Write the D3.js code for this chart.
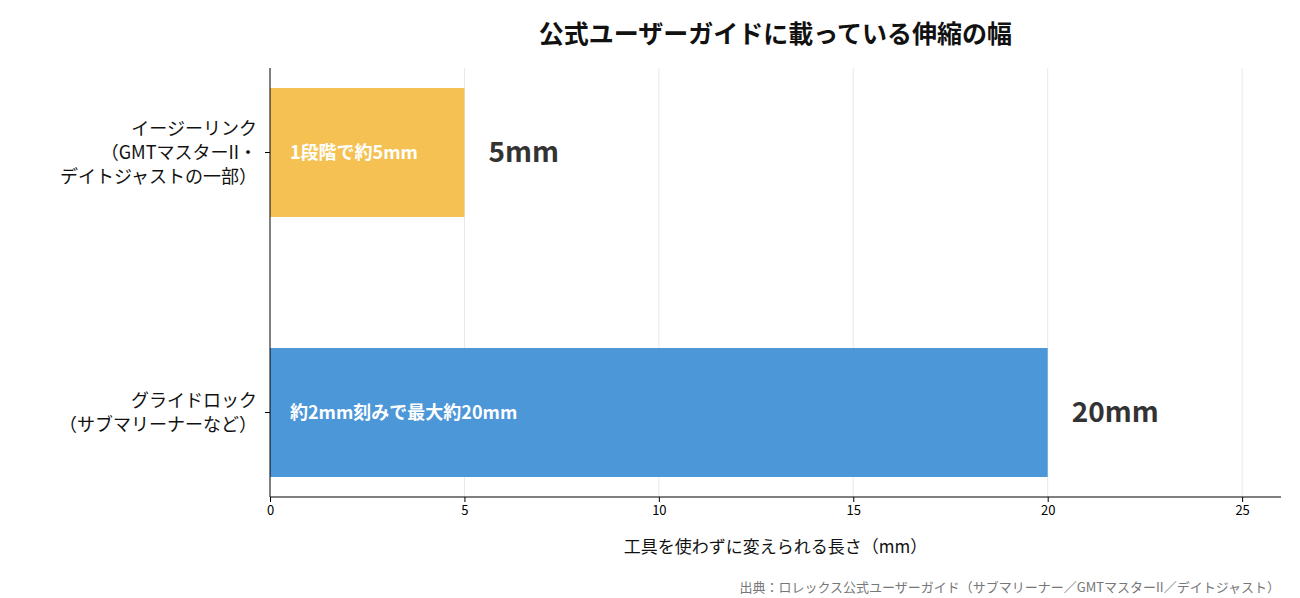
<!DOCTYPE html>
<html><head><meta charset="utf-8">
<script src="https://cdn.jsdelivr.net/npm/d3@7"></script>
<style>body{margin:0;background:#fff;font-family:"Noto Sans CJK JP","Noto Sans",sans-serif;}</style>
</head><body>
<svg id="c" width="1300" height="598"></svg>
<script>
var categories = [
  ["イージーリンク", "（GMTマスターII・", "デイトジャストの一部）"],
  ["グライドロック", "（サブマリーナーなど）"]
];
var values = [5, 20];
var barLabels = ["1段階で約5mm", "約2mm刻みで最大約20mm"];
var valueLabels = ["5mm", "20mm"];
var colors = ["#F4C152", "#4C97D8"];
var xTicks = [0, 5, 10, 15, 20, 25];

var svg = d3.select("#c");
var m = {l: 270, r: 1281, t: 68, b: 497};
var x = d3.scaleLinear().domain([0, 26]).range([m.l, m.r]);
var y = d3.scaleBand().domain([0, 1]).range([m.t, m.b]).paddingInner(0.504).paddingOuter(0.077);

svg.append("g").selectAll("line").data(xTicks.slice(1)).join("line")
  .attr("x1", d => x(d)).attr("x2", d => x(d)).attr("y1", m.t).attr("y2", m.b)
  .attr("stroke", "#e8e8e8").attr("stroke-width", 1);

svg.append("g").selectAll("rect").data(values).join("rect")
  .attr("x", x(0)).attr("y", (d, i) => y(i)).attr("width", d => x(d) - x(0))
  .attr("height", y.bandwidth()).attr("fill", (d, i) => colors[i]);

svg.append("g").selectAll("text").data(barLabels).join("text")
  .attr("x", x(0) + 20).attr("y", (d, i) => y(i) + y.bandwidth() / 2)
  .attr("dy", "0.35em").attr("fill", "#fff").attr("font-weight", "bold")
  .attr("font-size", 18).text(d => d);

svg.append("g").selectAll("text").data(values).join("text")
  .attr("x", d => x(d) + 24).attr("y", (d, i) => y(i) + y.bandwidth() / 2)
  .attr("dy", "0.35em").attr("fill", "#333").attr("font-weight", "bold")
  .attr("font-size", 28).text((d, i) => valueLabels[i]);

var xa = svg.append("g").attr("transform", "translate(0," + m.b + ")")
  .call(d3.axisBottom(x).tickValues(xTicks).tickSize(5).tickPadding(4));
xa.select(".domain").attr("d", "M" + m.l + ",0H" + m.r);
xa.selectAll("text").attr("font-size", 13).attr("font-family", "Noto Sans CJK JP");

var ya = svg.append("g").attr("transform", "translate(" + m.l + ",0)")
  .call(d3.axisLeft(y).tickSize(5).tickFormat(""));
ya.select(".domain").attr("d", "M0," + m.t + "V" + m.b);

categories.forEach(function(lines, i) {
  var cy = y(i) + y.bandwidth() / 2, lh = 24;
  var t = svg.append("text").attr("text-anchor", "end").attr("font-size", 18).attr("fill", "#111");
  lines.forEach(function(s, j) {
    t.append("tspan").attr("x", 257).attr("y", cy + (j - (lines.length - 1) / 2) * lh)
      .attr("dy", "0.35em").text(s);
  });
});

svg.append("text").attr("x", (m.l + m.r) / 2).attr("y", 34).attr("dy", "0.35em")
  .attr("text-anchor", "middle").attr("font-size", 25).attr("font-weight", "bold")
  .attr("fill", "#111").text("公式ユーザーガイドに載っている伸縮の幅");

svg.append("text").attr("x", (m.l + m.r) / 2).attr("y", 547).attr("dy", "0.35em")
  .attr("text-anchor", "middle").attr("font-size", 17).attr("fill", "#111")
  .text("工具を使わずに変えられる長さ（mm）");

svg.append("text").attr("x", 1280).attr("y", 587).attr("dy", "0.35em")
  .attr("text-anchor", "end").attr("font-size", 13).attr("fill", "#777")
  .text("出典：ロレックス公式ユーザーガイド（サブマリーナー／GMTマスターII／デイトジャスト）");
</script>
</body></html>
